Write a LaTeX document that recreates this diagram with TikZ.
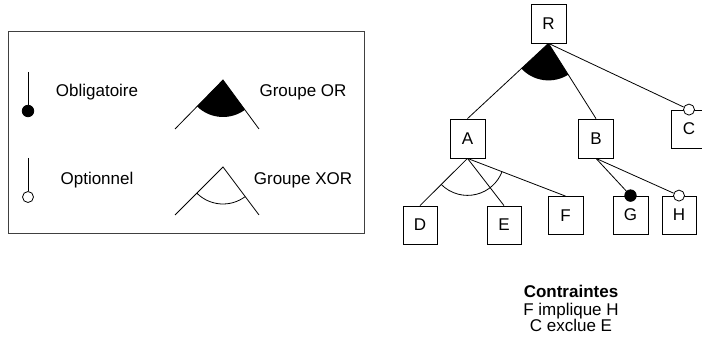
\documentclass[tikz,border=0pt]{standalone}
\usepackage{fontspec}
\setmainfont{Liberation Sans}
\usetikzlibrary{calc,positioning}
\tikzset{
  feat/.style={draw, line width=0.8pt, minimum width=35pt, minimum height=38pt, inner sep=0pt, font=\fontsize{17}{20}\selectfont},
  mand/.style={circle, draw, fill=black, line width=0.8pt, minimum size=11.5pt, inner sep=0pt},
  opt/.style={circle, draw, fill=white, line width=0.8pt, minimum size=11pt, inner sep=0pt},
  edge/.style={line width=0.8pt},
  lbl/.style={anchor=base, font=\fontsize{17}{20}\selectfont},
}
\def\grpr{37}
% filled sector between two edges leaving the same node
\newcommand{\orgrp}[3]{%
  \fill let \p0=(#1), \p1=($(#2)-(#1)$), \p2=($(#3)-(#1)$),
    \n1={atan2(\y1,\x1)}, \n2={atan2(\y2,\x2)} in
    (\p0) -- ++(\n1:\grpr) arc[start angle=\n1, end angle=\n2, radius=\grpr] -- cycle;}
% open arc between two edges leaving the same node
\newcommand{\xorgrp}[3]{%
  \draw[edge] let \p0=(#1), \p1=($(#2)-(#1)$), \p2=($(#3)-(#1)$),
    \n1={atan2(\y1,\x1)}, \n2={atan2(\y2,\x2)} in
    (\p0) ++(\n1:\grpr) arc[start angle=\n1, end angle=\n2, radius=\grpr];}

\begin{document}
\begin{tikzpicture}[x=1pt,y=1pt]
  \useasboundingbox (0,0) rectangle (702,345);

  % legend
  \draw[black!75, line width=1pt] (8,111) rectangle (364,313);

  \coordinate (obtop) at (28,273);
  \node[mand] (obc) at (28,234) {};
  \draw[edge] (obtop) -- (obc);
  \node[lbl] (oblbl) at (97,248) {Obligatoire};

  \coordinate (optop) at (28,187);
  \node[opt] (opc) at (28,148) {};
  \draw[edge] (optop) -- (opc);
  \node[lbl] (oplbl) at (97,160) {Optionnel};

  \coordinate (orapex) at (223,265);
  \coordinate (orl) at (175,216);
  \coordinate (orr) at (259,216);
  \orgrp{orapex}{orl}{orr}
  \draw[edge] (orl) -- (orapex) -- (orr);
  \node[lbl] (orlbl) at (303,248) {Groupe OR};

  \coordinate (xorapex) at (223,178);
  \coordinate (xorl) at (175,130);
  \coordinate (xorr) at (259,130);
  \xorgrp{xorapex}{xorl}{xorr}
  \draw[edge] (xorl) -- (xorapex) -- (xorr);
  \node[lbl] (xorlbl) at (303,160) {Groupe XOR};

  % feature tree
  \node[feat, minimum height=39pt] (R) at (548.5,321.5) {R};
  \node[feat, minimum height=39pt] (A) at (467.5,206.5) {A};
  \node[feat, minimum height=39pt] (B) at (596,206.5) {B};
  \node[feat] (C) at (689,216) {C};
  \node[feat, minimum width=34pt] (D) at (420,120) {D};
  \node[feat, minimum width=34pt] (E) at (504,120) {E};
  \node[feat] (F) at (565.5,129.5) {F};
  \node[feat] (G) at (630.5,130) {G};
  \node[feat, minimum width=34pt] (H) at (679,130) {H};

  \node[opt] (cC) at (C.north) {};
  \node[mand] (cG) at (G.north) {};
  \node[opt] (cH) at (H.north) {};

  \orgrp{R.south}{A.north}{B.north}
  \draw[edge] (R.south) -- (A.north);
  \draw[edge] (R.south) -- (B.north);
  \draw[edge] (R.south) -- (cC);

  \draw[edge] (A.south) -- (D.north);
  \draw[edge] (A.south) -- (E.north);
  \draw[edge] (A.south) -- (F.north);
  \xorgrp{A.south}{D.north}{F.north}

  \draw[edge] (B.south) -- (cG);
  \draw[edge] (B.south) -- (cH);

  % constraints
  \node[lbl, font=\fontsize{17}{20}\selectfont\bfseries] (ctit) at (571,47) {Contraintes};
  \node[lbl] (cimp) at (571,29) {F implique H};
  \node[lbl] (cexc) at (571,13) {C exclue E};
\end{tikzpicture}
\end{document}
